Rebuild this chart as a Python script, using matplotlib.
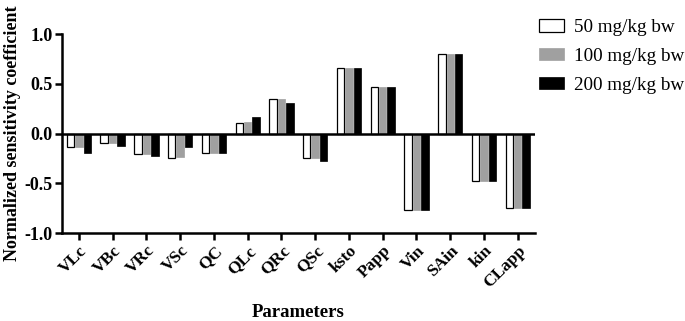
import matplotlib
matplotlib.use("Agg")
import matplotlib.pyplot as plt
import numpy as np

categories = ["VLc", "VBc", "VRc", "VSc", "QC", "QLc", "QRc", "QSc",
              "ksto", "Papp", "Vin", "SAin", "kin", "CLapp"]
dose_50 = [-0.134, -0.097, -0.21, -0.25, -0.20, 0.11, 0.35, -0.245,
           0.66, 0.47, -0.77, 0.80, -0.475, -0.75]
dose_100 = [-0.14, -0.10, -0.21, -0.24, -0.20, 0.115, 0.35, -0.25,
            0.66, 0.47, -0.77, 0.80, -0.475, -0.75]
dose_200 = [-0.20, -0.124, -0.23, -0.14, -0.20, 0.17, 0.31, -0.28,
            0.66, 0.47, -0.77, 0.80, -0.475, -0.75]
series_labels = ["50 mg/kg bw", "100 mg/kg bw", "200 mg/kg bw"]

plt.rcParams['font.family'] = ['Liberation Serif', 'DejaVu Serif']

fig = plt.figure(figsize=(6.85, 3.21), dpi=100)
ax = fig.add_axes([0.0905, 0.274, 0.690, 0.620])

x = np.arange(len(categories))
w = 0.22
ax.bar(x - 0.25, dose_50, w, facecolor="white", edgecolor="black", linewidth=0.9, label=series_labels[0])
ax.bar(x, dose_100, w, facecolor="#a0a0a0", edgecolor="#a0a0a0", linewidth=0.5, label=series_labels[1])
ax.bar(x + 0.25, dose_200, w, facecolor="black", edgecolor="black", linewidth=0.5, label=series_labels[2])

ax.axhline(0, color="black", linewidth=1.8, zorder=3)
ax.set_xlim(-0.5, len(categories) - 0.5)
ax.set_ylim(-1.0, 1.0)
ax.set_yticks([-1.0, -0.5, 0.0, 0.5, 1.0])
ax.set_yticklabels(["-1.0", "-0.5", "0.0", "0.5", "1.0"], fontweight="bold", fontsize=13)
ax.set_xticks(x)
ax.set_xticklabels(categories, rotation=45, ha="right", rotation_mode="anchor",
                   fontweight="bold", fontsize=12.5)

for s in ["top", "right"]:
    ax.spines[s].set_visible(False)
for s in ["left", "bottom"]:
    ax.spines[s].set_linewidth(1.8)
ax.tick_params(axis="both", direction="out", length=5, width=1.8, pad=2)

ax.set_ylabel("Normalized sensitivity coefficient", fontweight="bold", fontsize=13, labelpad=2)
ax.set_xlabel("Parameters", fontweight="bold", fontsize=13.5, labelpad=9)

leg = ax.legend(loc="upper left", bbox_to_anchor=(539 / 685, 1 - 19 / 321),
                bbox_transform=fig.transFigure, borderaxespad=0, borderpad=0,
                frameon=False, fontsize=13.75, handlelength=1.3, handleheight=0.63,
                labelspacing=0.62, handletextpad=0.55)

fig.savefig("out.png", dpi=100)
